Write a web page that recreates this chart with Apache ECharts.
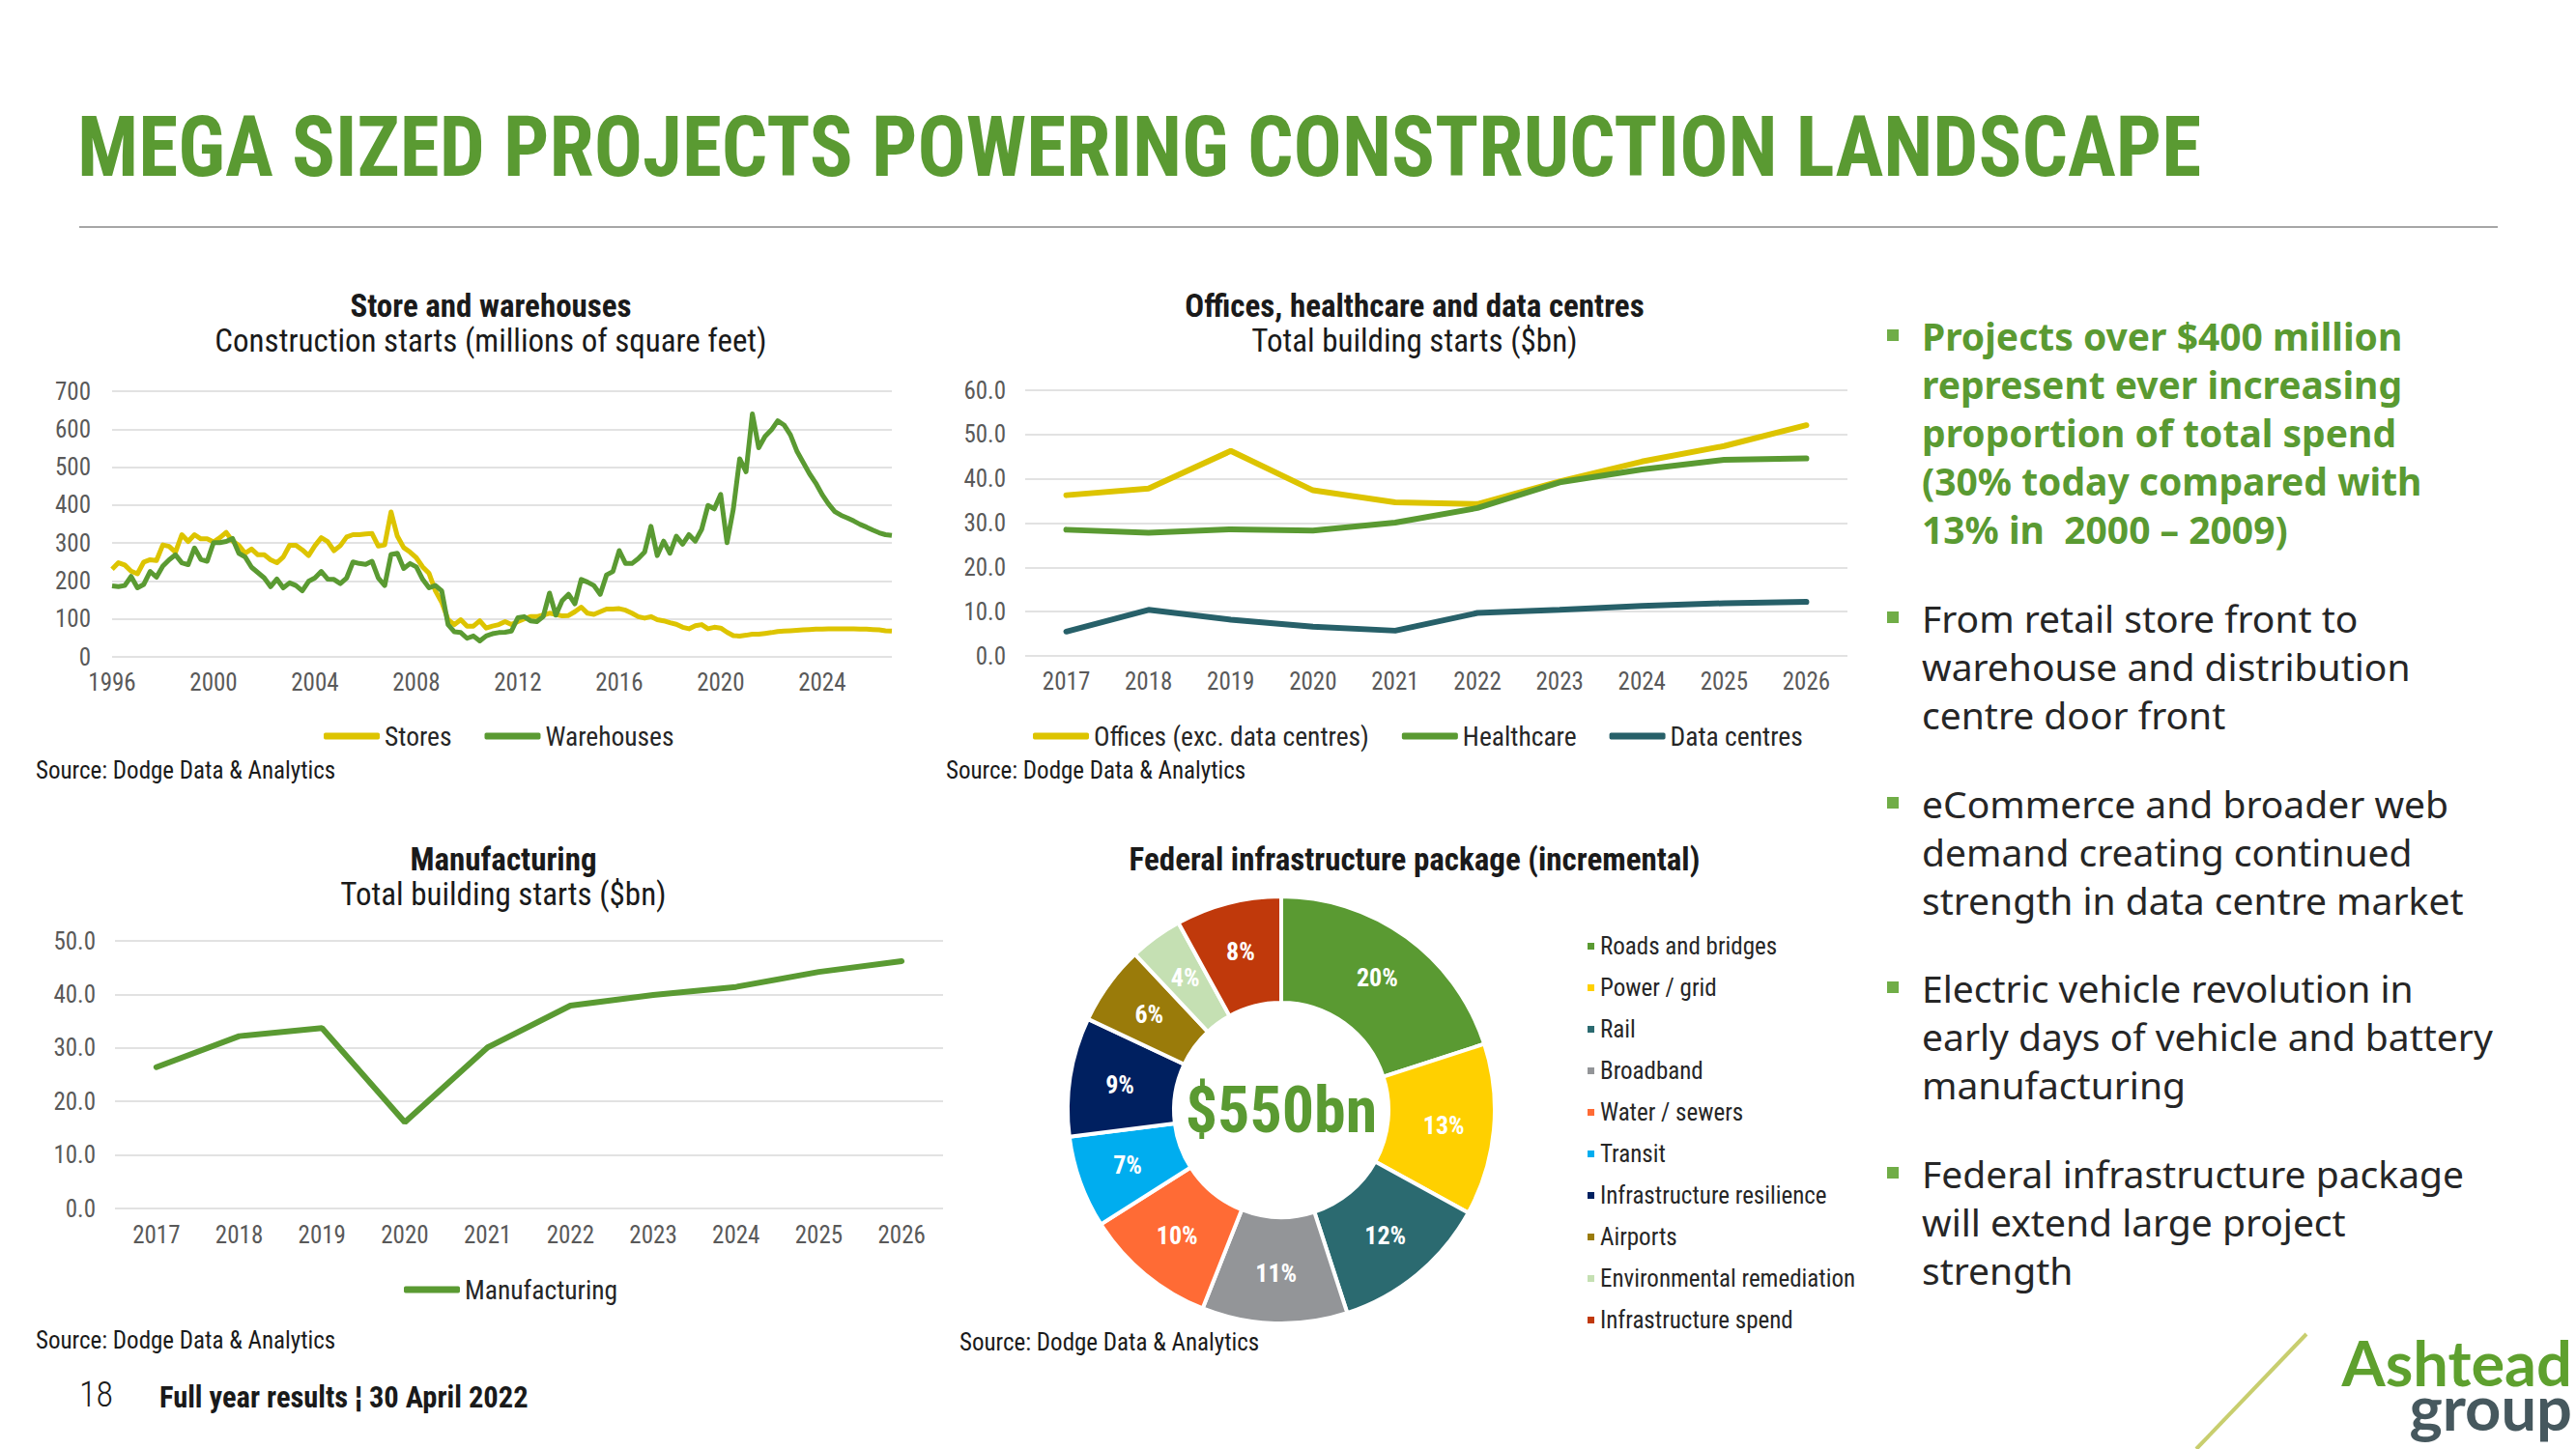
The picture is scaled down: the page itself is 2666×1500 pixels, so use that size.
<!DOCTYPE html>
<html>
<head>
<meta charset="utf-8">
<script src="https://cdn.jsdelivr.net/npm/echarts/dist/echarts.min.js"></script>
<style>
html,body{margin:0;padding:0;background:#ffffff;}
#chart{position:absolute;left:0;top:0;width:2666px;height:1500px;}
</style>
</head>
<body>
<div id="chart"></div>
<script>
// ---------- DATA ----------
const storeStartYear = 1996;
const storeQuarterCount = 124; // 1996 Q1 .. 2026 Q4
const storeTickEvery = 16;     // one tick label every 4 years

const storesValues = [
  231, 248, 242, 226, 219, 250, 256, 254, 295, 291,
  276, 322, 304, 322, 311, 311, 303, 314, 328, 305,
  294, 273, 284, 269, 269, 256, 248, 263, 294, 294,
  282, 267, 293, 314, 304, 280, 293, 316, 322, 322,
  324, 325, 292, 295, 382, 318, 288, 276, 261, 237,
  220, 174, 144, 98, 85, 98, 81, 81, 95, 76,
  81, 85, 93, 85, 93, 100, 106, 106, 110, 115,
  112, 108, 109, 119, 131, 115, 112, 119, 126, 126,
  127, 123, 115, 106, 102, 106, 98, 95, 90, 86,
  78, 74, 82, 85, 74, 78, 76, 65, 56, 55,
  57, 60, 60, 62, 64, 67, 68, 69, 70, 71,
  72, 73, 73, 74, 74, 74, 74, 74, 73, 73,
  72, 71, 69, 68
];
const warehousesValues = [
  187, 185, 188, 212, 182, 191, 225, 210, 239, 256,
  269, 248, 243, 287, 257, 252, 301, 301, 304, 312,
  273, 263, 236, 222, 208, 185, 205, 182, 195, 188,
  174, 199, 208, 225, 205, 204, 193, 208, 250, 246,
  244, 252, 208, 188, 270, 273, 233, 246, 237, 204,
  182, 188, 174, 85, 66, 64, 49, 55, 42, 55,
  61, 64, 65, 68, 103, 106, 95, 93, 106, 168,
  110, 148, 165, 140, 204, 197, 188, 165, 216, 225,
  280, 246, 246, 259, 276, 344, 267, 305, 273, 318,
  297, 322, 305, 336, 399, 390, 428, 301, 390, 522,
  488, 640, 551, 581, 598, 622, 611, 585, 543, 513,
  483, 458, 428, 403, 383, 373, 366, 358, 349, 342,
  334, 327, 322, 320
];

const years = ['2017','2018','2019','2020','2021','2022','2023','2024','2025','2026'];
const officesValues      = [36.3, 37.8, 46.3, 37.4, 34.7, 34.3, 39.4, 43.9, 47.4, 52.1];
const healthcareValues   = [28.5, 27.8, 28.6, 28.3, 30.1, 33.4, 39.2, 42.1, 44.3, 44.6];
const dataCentresValues  = [5.5, 10.4, 8.2, 6.6, 5.7, 9.7, 10.4, 11.3, 11.9, 12.2];
const manufacturingValues = [26.4, 32.2, 33.7, 16.1, 30.1, 37.9, 39.9, 41.4, 44.2, 46.2];

const federalCategories = ['Roads and bridges','Power / grid','Rail','Broadband','Water / sewers','Transit','Infrastructure resilience','Airports','Environmental remediation','Infrastructure spend'];
const federalShares = [20, 13, 12, 11, 10, 7, 9, 6, 4, 8];
const federalColors = ['#5A9A32','#FFD000','#2B6A70','#939598','#FF6B35','#00ADEF','#002060','#9A7B0A','#C5E0B3','#C0390B'];

const bullets = [
  ['Projects over $400 million','represent ever increasing','proportion of total spend','(30% today compared with','13% in  2000 \u2013 2009)'],
  ['From retail store front to','warehouse and distribution','centre door front'],
  ['eCommerce and broader web','demand creating continued','strength in data centre market'],
  ['Electric vehicle revolution in','early days of vehicle and battery','manufacturing'],
  ['Federal infrastructure package','will extend large project','strength']
];

// category labels for quarterly axis
const storeQuarters = [];
for (let i = 0; i < storeQuarterCount; i++) {
  storeQuarters.push((storeStartYear + Math.floor(i / 4)) + ' Q' + (i % 4 + 1));
}

// ---------- STYLE ----------
const FONT = '"Roboto Condensed","Liberation Sans Narrow","Arial Narrow","DejaVu Sans Condensed",sans-serif';
const WIDE = '"Noto Sans","Open Sans",sans-serif';
const LOGO = 'Lato,"Noto Sans",sans-serif';
const GREEN = '#5A9A32';
const YELLOW = '#DDC400';
const TEAL = '#276069';
const AXIS_TXT = '#595959';
const GRID_LINE = '#d9d9d9';

function txt(text, x, y, size, weight, color, align, family, extra) {
  const st = Object.assign({
    text: text, x: x, y: y,
    fontSize: size, fontWeight: weight, fontFamily: family || FONT,
    fill: color, align: align, verticalAlign: 'middle',
    textAlign: align, textVerticalAlign: 'middle'
  }, extra || {});
  return { type: 'text', silent: true, style: st };
}

const graphics = [];
// slide title (slightly condensed) + rule
graphics.push({
  type: 'text', silent: true, x: 80, y: 152, scaleX: 0.948,
  style: { text: 'MEGA SIZED PROJECTS POWERING CONSTRUCTION LANDSCAPE', x: 0, y: 0,
    fontSize: 88, fontWeight: 'bold', fontFamily: FONT, fill: GREEN,
    align: 'left', verticalAlign: 'middle', textAlign: 'left', textVerticalAlign: 'middle' }
});
graphics.push({ type: 'line', silent: true, shape: { x1: 82, y1: 235, x2: 2585, y2: 235 }, style: { stroke: '#a6a6a6', lineWidth: 2 } });

// chart titles
graphics.push(txt('Store and warehouses', 508, 316, 33, 'bold', '#1a1a1a', 'center'));
graphics.push(txt('Construction starts (millions of square feet)', 508, 352, 33, 'normal', '#1a1a1a', 'center'));
graphics.push(txt('Offices, healthcare and data centres', 1464, 316, 33, 'bold', '#1a1a1a', 'center'));
graphics.push(txt('Total building starts ($bn)', 1464, 352, 33, 'normal', '#1a1a1a', 'center'));
graphics.push(txt('Manufacturing', 521, 889, 33, 'bold', '#1a1a1a', 'center'));
graphics.push(txt('Total building starts ($bn)', 521, 925, 33, 'normal', '#1a1a1a', 'center'));
graphics.push(txt('Federal infrastructure package (incremental)', 1464, 889, 33, 'bold', '#1a1a1a', 'center'));

// sources
graphics.push(txt('Source: Dodge Data & Analytics', 37, 797, 25, 'normal', '#1a1a1a', 'left'));
graphics.push(txt('Source: Dodge Data & Analytics', 979, 797, 25, 'normal', '#1a1a1a', 'left'));
graphics.push(txt('Source: Dodge Data & Analytics', 37, 1387, 25, 'normal', '#1a1a1a', 'left'));
graphics.push(txt('Source: Dodge Data & Analytics', 993, 1389, 25, 'normal', '#1a1a1a', 'left'));

// donut centre
graphics.push(txt('$550bn', 1326, 1149, 66, 'bold', GREEN, 'center'));

// bullets
const bulletTops = [347, 639, 831, 1022, 1214];
bullets.forEach(function (lines, i) {
  const first = i === 0;
  graphics.push({ type: 'rect', silent: true, shape: { x: 1953, y: bulletTops[i] - 6, width: 12, height: 12 }, style: { fill: '#70AD47' } });
  graphics.push({
    type: 'text', silent: true,
    style: {
      text: lines.join('\n'), x: 1989, y: bulletTops[i] - 25,
      fontSize: 39, fontWeight: first ? 'bold' : 'normal', fontFamily: WIDE,
      fill: first ? GREEN : '#262626', lineHeight: 50,
      align: 'left', verticalAlign: 'top', textAlign: 'left', textVerticalAlign: 'top'
    }
  });
});

// footer
graphics.push(txt('18', 82, 1444, 36, 300, '#1a1a1a', 'left'));
graphics.push(txt('Full year results \u00A6 30 April 2022', 165, 1446, 30.5, 'bold', '#1a1a1a', 'left'));

// logo (one two-line text block)
graphics.push({ type: 'line', silent: true, shape: { x1: 2273, y1: 1500, x2: 2387, y2: 1381 }, style: { stroke: '#C8CE6E', lineWidth: 4 } });
graphics.push({
  type: 'text', silent: true,
  style: {
    text: '{a|Ashtead}\n{g|group}', x: 2662, y: 1433,
    align: 'right', verticalAlign: 'middle', textAlign: 'right', textVerticalAlign: 'middle',
    rich: {
      a: { fontSize: 65, fontWeight: 'bold', fontFamily: LOGO, fill: '#5EA02E', color: '#5EA02E', lineHeight: 46, align: 'right' },
      g: { fontSize: 65, fontWeight: 'bold', fontFamily: LOGO, fill: '#46585E', color: '#46585E', lineHeight: 46, align: 'right' }
    }
  }
});

const axisLabelStyle = { color: AXIS_TXT, fontSize: 25, fontFamily: FONT };
const legendText = { color: '#262626', fontSize: 27.5, fontFamily: FONT, lineHeight: 30 };

const option = {
  animation: false,
  backgroundColor: '#ffffff',
  graphic: graphics,
  grid: [
    { left: 116, top: 405, width: 807, height: 275 },
    { left: 1061, top: 404, width: 851, height: 275 },
    { left: 119, top: 974, width: 857, height: 277 }
  ],
  xAxis: [
    { gridIndex: 0, type: 'category', data: storeQuarters, boundaryGap: false,
      axisLine: { show: false }, axisTick: { show: false },
      axisLabel: Object.assign({ margin: 14, interval: function (i) { return i % storeTickEvery === 0; }, formatter: function (v) { return v.slice(0, 4); } }, axisLabelStyle) },
    { gridIndex: 1, type: 'category', data: years, boundaryGap: true,
      axisLine: { show: false }, axisTick: { show: false },
      axisLabel: Object.assign({ margin: 14, interval: 0 }, axisLabelStyle) },
    { gridIndex: 2, type: 'category', data: years, boundaryGap: true,
      axisLine: { show: false }, axisTick: { show: false },
      axisLabel: Object.assign({ margin: 15, interval: 0 }, axisLabelStyle) }
  ],
  yAxis: [
    { gridIndex: 0, type: 'value', min: 0, max: 700, interval: 100,
      axisLabel: Object.assign({ margin: 22 }, axisLabelStyle),
      splitLine: { lineStyle: { color: GRID_LINE, width: 1.5 } } },
    { gridIndex: 1, type: 'value', min: 0, max: 60, interval: 10,
      axisLabel: Object.assign({ margin: 20, formatter: function (v) { return v.toFixed(1); } }, axisLabelStyle),
      splitLine: { lineStyle: { color: GRID_LINE, width: 1.5 } } },
    { gridIndex: 2, type: 'value', min: 0, max: 50, interval: 10,
      axisLabel: Object.assign({ margin: 20, formatter: function (v) { return v.toFixed(1); } }, axisLabelStyle),
      splitLine: { lineStyle: { color: GRID_LINE, width: 1.5 } } }
  ],
  legend: [
    { data: ['Stores', 'Warehouses'], left: 330, top: 742, icon: 'roundRect', itemWidth: 58, itemHeight: 7, itemGap: 34, textStyle: legendText, selectedMode: false },
    { data: ['Offices (exc. data centres)', 'Healthcare', 'Data centres'], left: 1064, top: 742, icon: 'roundRect', itemWidth: 58, itemHeight: 7, itemGap: 34, textStyle: legendText, selectedMode: false },
    { data: ['Manufacturing'], left: 413, top: 1315, icon: 'roundRect', itemWidth: 58, itemHeight: 7, textStyle: legendText, selectedMode: false },
    { data: federalCategories, orient: 'vertical', left: 1636, top: 962, icon: 'rect', itemWidth: 9, itemHeight: 9, itemGap: 18,
      textStyle: { color: '#262626', fontSize: 25, fontFamily: FONT, lineHeight: 24 }, selectedMode: false }
  ],
  series: [
    { name: 'Stores', type: 'line', xAxisIndex: 0, yAxisIndex: 0, data: storesValues, symbol: 'none', lineStyle: { color: YELLOW, width: 5, join: 'round' }, itemStyle: { color: YELLOW } },
    { name: 'Warehouses', type: 'line', xAxisIndex: 0, yAxisIndex: 0, data: warehousesValues, symbol: 'none', lineStyle: { color: GREEN, width: 5, join: 'round' }, itemStyle: { color: GREEN } },
    { name: 'Offices (exc. data centres)', type: 'line', xAxisIndex: 1, yAxisIndex: 1, data: officesValues, symbol: 'none', lineStyle: { color: YELLOW, width: 6, cap: 'round' }, itemStyle: { color: YELLOW } },
    { name: 'Healthcare', type: 'line', xAxisIndex: 1, yAxisIndex: 1, data: healthcareValues, symbol: 'none', lineStyle: { color: GREEN, width: 6, cap: 'round' }, itemStyle: { color: GREEN } },
    { name: 'Data centres', type: 'line', xAxisIndex: 1, yAxisIndex: 1, data: dataCentresValues, symbol: 'none', lineStyle: { color: TEAL, width: 6, cap: 'round' }, itemStyle: { color: TEAL } },
    { name: 'Manufacturing', type: 'line', xAxisIndex: 2, yAxisIndex: 2, data: manufacturingValues, symbol: 'none', lineStyle: { color: GREEN, width: 6, cap: 'round' }, itemStyle: { color: GREEN } },
    { name: 'Federal infrastructure package', type: 'pie', center: [1326, 1149], radius: [111, 221], startAngle: 90, clockwise: true,
      avoidLabelOverlap: false,
      data: federalCategories.map(function (n, i) { return { name: n, value: federalShares[i], itemStyle: { color: federalColors[i] } }; }),
      itemStyle: { borderColor: '#ffffff', borderWidth: 4 },
      label: { show: true, position: 'inside', formatter: '{c}%', color: '#ffffff', fontWeight: 'bold', fontSize: 26, fontFamily: FONT },
      labelLine: { show: false }, emphasis: { disabled: true } }
  ]
};

const chart = echarts.init(document.getElementById('chart'), null, { renderer: 'svg', width: 2666, height: 1500 });
chart.setOption(option);
</script>
</body>
</html>
